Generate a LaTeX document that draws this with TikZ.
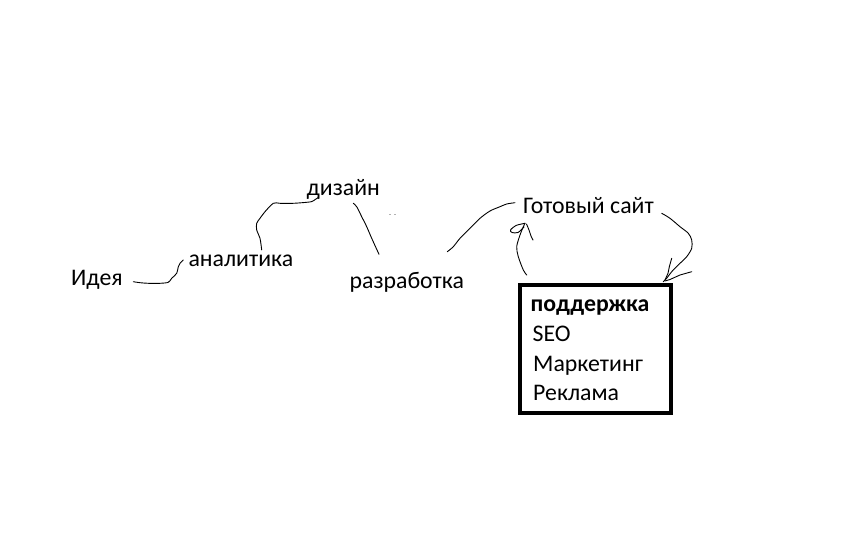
\documentclass[tikz,border=0pt]{standalone}
\usepackage{fontspec}
\setmainfont{Carlito}
\begin{document}
\begin{tikzpicture}[x=1pt,y=-1pt,
  lbl/.style={anchor=base west,inner sep=0pt,font=\fontsize{23.8}{28}\selectfont},
  ink/.style={line width=0.9pt,line join=round,line cap=round},
  boxstyle/.style={draw,line width=4.6pt,minimum width=151pt,minimum height=128pt,inner sep=0pt}]
\useasboundingbox[fill=white] (0,0) rectangle (859,537);
% labels
\node[lbl] (idea) at (71,285.7) {Идея};
\node[lbl] (anal) at (188.3,266.7) {аналитика};
\node[lbl] (dis) at (306.5,195.7) {дизайн};
\node[lbl] (razr) at (349.5,288.3) {разработка};
\node[lbl] (ready) at (523,214) {Готовый сайт};
% support box
\node[boxstyle] (box) at (595.5,349) {};
\node[lbl,font=\fontsize{23.8}{28}\selectfont\bfseries] (sup) at (530.5,311.7) {поддержка};
\node[lbl] (seo) at (532.5,341.7) {SEO};
\node[lbl] (mark) at (533,371.7) {Маркетинг};
\node[lbl] (rekl) at (533,400) {Реклама};
% stray specks
\fill[gray!60] (389,214.5) rectangle (391,215.5);
\fill[gray!60] (394,214.5) rectangle (396,215.5);
% connectors (hand drawn)
\draw[ink] plot[smooth,tension=0.5] coordinates {(133.3,281.7) (140,282.7) (148.3,283.3) (160,283.3) (168.3,282.3) (171.7,278.3) (176.7,273.3) (178.3,266.7) (180,263.3) (183.3,260)};
\draw[ink] plot[smooth,tension=0.5] coordinates {(261.7,250) (260,238.3) (256.7,230) (256.7,223.3) (260,218.3) (265,211.7) (273.3,203.3) (280,203.3) (293.3,203.3) (306.7,202.3) (312,201.5) (316,199) (318.3,197.5)};
\draw[ink] plot[smooth,tension=0.5] coordinates {(353.3,203.3) (356.7,206.7) (361.7,216.7) (366.7,226.7) (371.7,238.3) (379,254.3)};
\draw[ink] plot[smooth,tension=0.5] coordinates {(447.3,251.7) (453.3,246.7) (460,238.3) (470,228.3) (480,218.3) (490,211) (500,206.7) (506.7,204) (515,202.7)};
% arrow up from box
\draw[ink] plot[smooth,tension=0.5] coordinates {(526.7,275) (523.3,270) (518.3,256.7) (516.7,246.7) (520,235) (523.3,226.7) (525,223.3)};
\draw[ink] plot[smooth,tension=0.5] coordinates {(525,223.3) (516,225.5) (510.5,230) (512,232.5) (518,232.5) (524,227)};
\draw[ink] plot[smooth,tension=0.5] coordinates {(526.5,224) (529,230) (531,236) (533,240)};
% arrow down to box
\draw[ink] plot[smooth,tension=0.5] coordinates {(661.7,213.3) (670,218.3) (680,226.7) (688.3,233.3) (691.7,240) (691.7,248.3) (686.7,256.7) (680,263.3) (671.7,271.7) (666.7,278.3) (663.3,281.7)};
\draw[ink] (671.7,258.3) -- (669.5,266) -- (668,273.3) -- (665,280);
\draw[ink] (691.7,271.7) -- (680,275) -- (670,279.5) -- (665,281);
\end{tikzpicture}
\end{document}
